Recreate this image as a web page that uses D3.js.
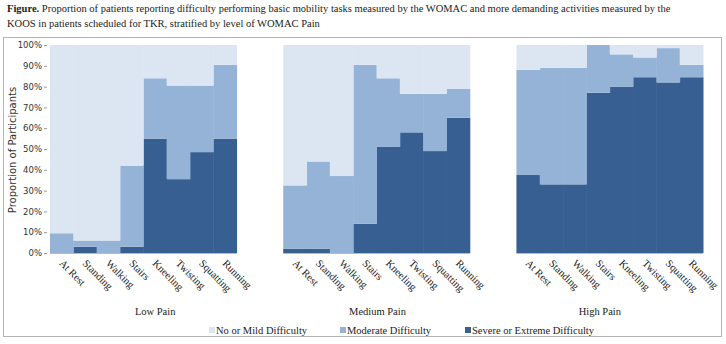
<!DOCTYPE html>
<html>
<head>
<meta charset="utf-8">
<script src="https://cdn.jsdelivr.net/npm/d3@7"></script>
<style>
  body { margin: 0; background: #fff; }
</style>
</head>
<body>
<script>
var width = 726;
var height = 344;
var serif = "'Liberation Serif', 'Times New Roman', 'DejaVu Serif', serif";
var sans = "'DejaVu Sans', Verdana, sans-serif";

// data (percent of participants)
var tasks = ["At Rest", "Standing", "Walking", "Stairs", "Kneeling", "Twisting", "Squatting", "Running"];
var groups = ["Low Pain", "Medium Pain", "High Pain"];
var seriesNames = ["No or Mild Difficulty", "Moderate Difficulty", "Severe or Extreme Difficulty"];
var yTicks = [0, 10, 20, 30, 40, 50, 60, 70, 80, 90, 100];

var severeLow = [0, 3, 0, 3, 55, 35.5, 48.5, 55];
var moderateLow = [9.5, 3, 6, 39, 29, 45, 32, 35.5];
var mildLow = [90.5, 94, 94, 58, 16, 19.5, 19.5, 9.5];

var severeMed = [2, 2, 0, 14, 51, 58, 49, 65];
var moderateMed = [30.5, 42, 37, 76.5, 33, 18.5, 27.5, 14];
var mildMed = [67.5, 56, 63, 9.5, 16, 23.5, 23.5, 21];

var severeHigh = [37.5, 33, 33, 77, 80, 84.5, 82, 84.5];
var moderateHigh = [50.5, 56, 56, 23, 15.5, 9.5, 16.5, 6];
var mildHigh = [12, 11, 11, 0, 4.5, 6, 1.5, 9.5];

var severe = [severeLow, severeMed, severeHigh];
var moderate = [moderateLow, moderateMed, moderateHigh];
var mild = [mildLow, mildMed, mildHigh];

var colors = ["#dce6f2", "#95b3d7", "#375f91"];

var svg = d3.select("body").append("svg")
  .attr("width", width)
  .attr("height", height);

// title
var title = svg.append("text").attr("x", 7).attr("y", 12)
  .style("font-family", serif).style("font-size", "10.5px").style("fill", "#222");
title.append("tspan").style("font-weight", "bold").text("Figure.");
title.append("tspan").text(" Proportion of patients reporting difficulty performing basic mobility tasks measured by the WOMAC and more demanding activities measured by the");
svg.append("text").attr("x", 7).attr("y", 27)
  .style("font-family", serif).style("font-size", "10.5px").style("fill", "#222")
  .text("KOOS in patients scheduled for TKR, stratified by level of WOMAC Pain");

// frame
svg.append("rect")
  .attr("x", 3.5).attr("y", 37.5)
  .attr("width", 718).attr("height", 299)
  .style("fill", "none").style("stroke", "#b4b4b4");

var y = d3.scaleLinear().domain([0, 100]).range([253, 45]);

var panelX = d3.scaleBand().domain(groups).range([50, 703]).paddingInner(0.2).paddingOuter(0);
var groupLabelX = d3.scaleBand().domain(groups).range([44, 711]);

var yAxis = svg.append("g")
  .attr("transform", "translate(" + 47 + ",0)")
  .call(d3.axisLeft(y).tickValues(yTicks).tickSize(3).tickFormat(function (d) { return d + "%"; }));
yAxis.select(".domain").remove();
yAxis.selectAll("line").style("stroke", "#999");
yAxis.selectAll("text").attr("x", -5)
  .style("font-family", sans).style("font-size", "8.5px").style("fill", "#333");

svg.append("text")
  .attr("transform", "translate(16,150) rotate(-90)")
  .attr("text-anchor", "middle")
  .style("font-family", sans)
  .style("font-size", "10px")
  .style("fill", "#333")
  .text("Proportion of Participants");

groups.forEach(function (g, gi) {
  var x = d3.scaleBand().domain(tasks).range([panelX(g), panelX(g) + panelX.bandwidth()]).padding(0);
  var rows = tasks.map(function (t, i) {
    return { task: t, severe: severe[gi][i], moderate: moderate[gi][i], mild: mild[gi][i] };
  });
  var stacked = d3.stack().keys(["severe", "moderate", "mild"])(rows);

  var panel = svg.append("g").attr("class", "panel");
  panel.selectAll(".layer")
    .data(stacked)
  .enter().append("g")
    .attr("class", "layer")
    .style("fill", function (d, i) { return colors[2 - i]; })
  .selectAll("rect")
    .data(function (d) { return d; })
  .enter().append("rect")
    .attr("x", function (d) { return x(d.data.task); })
    .attr("width", x.bandwidth() + 0.5)
    .attr("y", function (d) { return y(d[1]); })
    .attr("height", function (d) { return y(d[0]) - y(d[1]); });

  // baseline
  panel.append("line")
    .attr("x1", x.range()[0]).attr("x2", x.range()[1])
    .attr("y1", y(0) + 0.5).attr("y2", y(0) + 0.5)
    .style("stroke", "#bbb");

  panel.selectAll(".cat")
    .data(tasks)
  .enter().append("text")
    .attr("class", "cat")
    .attr("transform", function (d) { return "translate(" + (x(d) + x.bandwidth() / 2 - 3) + "," + 264 + ") rotate(45)"; })
    .style("font-family", serif)
    .style("font-size", "10.5px")
    .style("fill", "#222")
    .text(function (d) { return d; });

  panel.append("text")
    .attr("x", groupLabelX(g) + groupLabelX.bandwidth() / 2)
    .attr("y", 315)
    .attr("text-anchor", "middle")
    .style("font-family", serif)
    .style("font-size", "10.5px")
    .style("fill", "#222")
    .text(g);
});

// legend
var legendX = [209, 340, 465];
var legend = svg.selectAll(".legend")
  .data(seriesNames)
.enter().append("g")
  .attr("class", "legend")
  .attr("transform", function (d, i) { return "translate(" + legendX[i] + ",327)"; });
legend.append("rect")
  .attr("width", 6).attr("height", 6)
  .style("fill", function (d, i) { return colors[i]; });
legend.append("text")
  .attr("x", 7).attr("y", 6.5)
  .style("font-family", serif)
  .style("font-size", "10.5px")
  .style("fill", "#222")
  .text(function (d) { return d; });
</script>
</body>
</html>
